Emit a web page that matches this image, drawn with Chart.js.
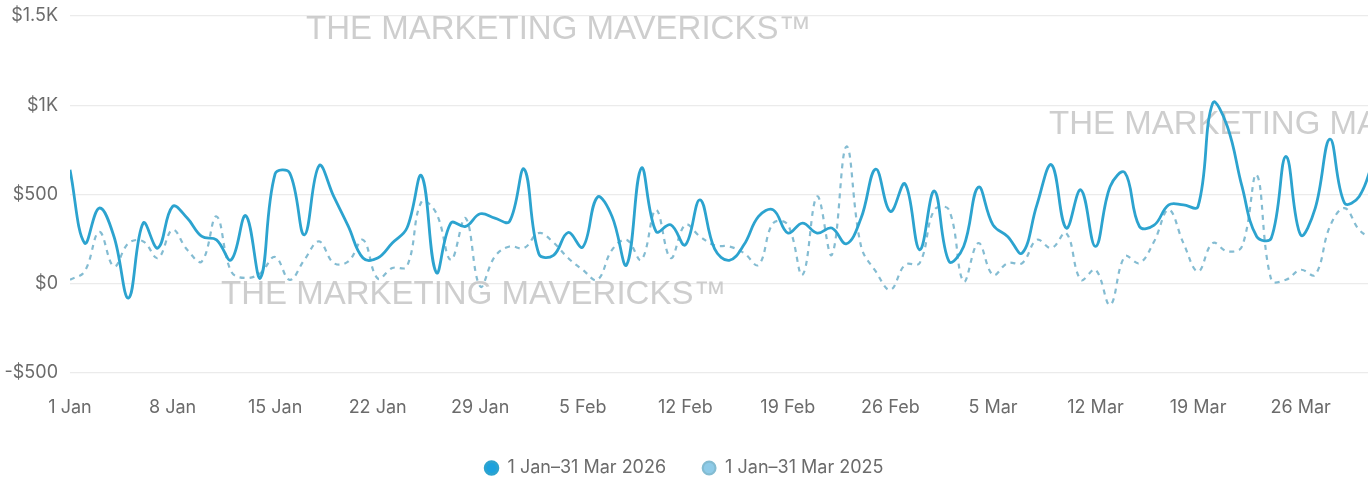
<!DOCTYPE html>
<html>
<head>
<meta charset="utf-8">
<script src="https://cdn.jsdelivr.net/npm/chart.js@4/dist/chart.umd.min.js"></script>
<style>
html,body{margin:0;padding:0;background:#fff;overflow:hidden;}
#wrap{position:relative;width:1368px;height:479px;}
</style>
</head>
<body>
<div id="wrap"><canvas id="c" width="1368" height="479"></canvas></div>
<script>
// ---- data ----
const xTickLabels = ['1 Jan','8 Jan','15 Jan','22 Jan','29 Jan','5 Feb','12 Feb','19 Feb','26 Feb','5 Mar','12 Mar','19 Mar','26 Mar'];
const yTickValues = [1500, 1000, 500, 0, -500];
const yTickLabels = ['$1.5K', '$1K', '$500', '$0', '-$500'];
const seriesNames = ['1 Jan\u201331 Mar 2026', '1 Jan\u201331 Mar 2025'];
const sales2026 = [638,228,424,265,-80,340,200,433,368,265,246,134,381,32,615,
  620,274,661,489,321,144,144,228,312,605,63,340,321,392,368,
  349,642,168,159,287,205,485,377,106,648,293,330,218,470,195,
  131,218,377,414,284,340,284,312,224,368,642,405,560,190,520,
  125,209,541,330,265,172,442,666,312,526,209,545,623,321,328,
  442,442,433,1012,881,545,265,256,713,274,424,810,452,489,700];
const sales2025 = [22,69,290,97,228,237,144,302,190,125,377,69,32,60,150,
  22,134,237,116,125,246,30,88,97,460,396,134,368,-15,153,
  209,200,284,231,144,78,22,190,246,134,414,144,330,265,215,
  209,172,106,340,330,50,489,162,769,209,69,-34,106,116,414,
  414,13,228,50,116,116,246,200,284,22,78,-118,153,116,237,
  414,228,69,228,181,209,610,22,22,78,50,321,424,302,246];
const watermarkText = 'THE MARKETING MAVERICKS\u2122';

const toPoints = arr => arr.map((v, i) => ({x: i, y: v}));

const watermark = {
  id: 'watermark',
  beforeDatasetsDraw(chart) {
    const ctx = chart.ctx;
    ctx.save();
    ctx.font = '33px "Liberation Sans", Arial, sans-serif';
    ctx.fillStyle = 'rgba(190,190,190,0.75)';
    ctx.textBaseline = 'alphabetic';
    ctx.fillText(watermarkText, 306, 39);
    ctx.fillText(watermarkText, 221, 304);
    ctx.fillText(watermarkText, 1049, 134);
    ctx.restore();
  }
};

new Chart(document.getElementById('c'), {
  type: 'line',
  data: {
    datasets: [
      {
        label: seriesNames[0],
        data: toPoints(sales2026),
        borderColor: '#2ca3cf',
        backgroundColor: '#1ba1de',
        borderWidth: 2.8,
        pointRadius: 0,
        tension: 0.4,
        fill: false
      },
      {
        label: seriesNames[1],
        data: toPoints(sales2025),
        borderColor: '#84bcd2',
        backgroundColor: '#8ecbe8',
        borderWidth: 2.2,
        borderDash: [5, 5],
        pointRadius: 0,
        tension: 0.4,
        fill: false
      }
    ]
  },
  plugins: [watermark],
  options: {
    responsive: false,
    devicePixelRatio: 1,
    animation: false,
    layout: { padding: { top: 16, right: 0, left: 0, bottom: 0 } },
    scales: {
      x: {
        type: 'linear',
        min: 0,
        max: 88.6,
        afterFit: s => { s.height = 50; s.paddingLeft = 0; s.paddingRight = 0; },
        grid: { display: false, drawTicks: false },
        border: { display: false },
        ticks: {
          stepSize: 7,
          includeBounds: false,
          autoSkip: false,
          maxRotation: 0,
          padding: 24,
          color: '#6b6b6b',
          font: { family: 'Inter', size: 18 },
          callback: v => xTickLabels[Math.round(v / 7)] ?? ''
        }
      },
      y: {
        min: -500,
        max: 1500,
        afterFit: s => { s.width = 70; s.paddingTop = 0; s.paddingBottom = 0; },
        afterBuildTicks: s => { s.ticks = yTickValues.map(v => ({value: v})); },
        grid: { color: '#ebebeb', lineWidth: 1.2, drawTicks: false },
        border: { display: false },
        ticks: {
          padding: 12,
          color: '#6b6b6b',
          font: { family: 'Inter', size: 18 },
          callback: v => yTickLabels[yTickValues.indexOf(v)]
        }
      }
    },
    plugins: {
      legend: {
        position: 'bottom',
        maxHeight: 56,
        labels: {
          usePointStyle: true,
          pointStyle: 'circle',
          boxWidth: 14,
          boxHeight: 9,
          padding: 36,
          color: '#6b6b6b',
          font: { family: 'Inter', size: 18 }
        }
      },
      tooltip: { enabled: false }
    }
  }
});
</script>
</body>
</html>
